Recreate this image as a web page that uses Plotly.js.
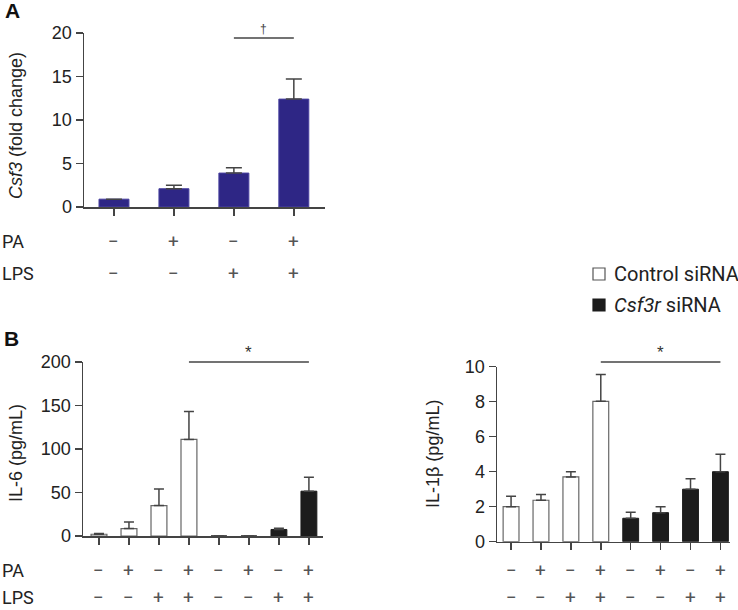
<!DOCTYPE html>
<html>
<head>
<meta charset="utf-8">
<script src="https://cdn.plot.ly/plotly-3.0.1.min.js"></script>
<style>html,body{margin:0;padding:0;background:#fff;}#chart{width:738px;height:610px;}</style>
</head>
<body>
<div id="chart"></div>
<script>
// ---- data ----
const paA   = ['−', '+', '−', '+'];
const lpsA  = ['−', '−', '+', '+'];
const csf3Mean = [0.9, 2.1, 3.9, 12.4];
const csf3Err  = [0, 0.4, 0.6, 2.3];

const paB  = ['−', '+', '−', '+', '−', '+', '−', '+'];
const lpsB = ['−', '−', '+', '+', '−', '−', '+', '+'];

const il6Control    = [2, 8.5, 35, 111];
const il6ControlErr = [1, 7.5, 19, 32];
const il6Csf3r      = [0, 0, 7.5, 51.5];
const il6Csf3rErr   = [0, 0, 1.5, 16];

const il1bControl    = [2.0, 2.37, 3.7, 8.02];
const il1bControlErr = [0.6, 0.33, 0.3, 1.54];
const il1bCsf3r      = [1.34, 1.66, 3.0, 4.0];
const il1bCsf3rErr   = [0.34, 0.34, 0.6, 1.0];

const seriesNames = ['Control siRNA', '<i>Csf3r</i> siRNA'];

// ---- helpers ----
const W = 738, H = 610;
const px = v => v / W;
const py = v => 1 - v / H;
const idx = n => Array.from({length: n}, (_, i) => i);
const zeros = a => a.map(() => 0);

const AX = '#444';
const NAVY = '#2e2685';
const BLACK = '#1c1c1c';
const WHITE_LINE = '#666';

function errY(arr, w) {
  return {type: 'data', symmetric: false, array: arr, arrayminus: zeros(arr),
          color: AX, thickness: 1.5, width: w};
}

const ctrlX = idx(4);
const siX = idx(4).map(i => i + 4);

const traces = [
  {type: 'bar', x: idx(4), y: csf3Mean, xaxis: 'x', yaxis: 'y', width: 0.5,
   marker: {color: NAVY, line: {color: '#4a42a0', width: 1}},
   error_y: errY(csf3Err, 8), showlegend: false, hoverinfo: 'y'},

  {type: 'bar', x: ctrlX, y: il6Control, xaxis: 'x2', yaxis: 'y2', width: 0.53,
   marker: {color: '#ffffff', line: {color: WHITE_LINE, width: 1.2}},
   error_y: errY(il6ControlErr, 5), showlegend: false, name: seriesNames[0]},
  {type: 'bar', x: siX, y: il6Csf3r, xaxis: 'x2', yaxis: 'y2', width: 0.53,
   marker: {color: BLACK, line: {color: BLACK, width: 1}},
   error_y: errY(il6Csf3rErr, 5), showlegend: false, name: seriesNames[1]},

  {type: 'bar', x: ctrlX, y: il1bControl, xaxis: 'x3', yaxis: 'y3', width: 0.53,
   marker: {color: '#ffffff', line: {color: WHITE_LINE, width: 1.2}},
   error_y: errY(il1bControlErr, 5), showlegend: false, name: seriesNames[0]},
  {type: 'bar', x: siX, y: il1bCsf3r, xaxis: 'x3', yaxis: 'y3', width: 0.53,
   marker: {color: BLACK, line: {color: BLACK, width: 1}},
   error_y: errY(il1bCsf3rErr, 5), showlegend: false, name: seriesNames[1]}
];

const tickFont = {family: 'Liberation Sans, Arial, sans-serif', size: 18, color: '#222'};

function xAx(domain, range, n, anchor) {
  return {domain: domain, range: range, anchor: anchor, showline: true, linecolor: AX, linewidth: 1.5,
          ticks: 'outside', ticklen: 7, tickwidth: 1.5, tickcolor: AX,
          tickvals: idx(n), showticklabels: false, showgrid: false, zeroline: false,
          fixedrange: true};
}
function yAx(domain, range, dtick, anchor) {
  return {domain: domain, range: range, anchor: anchor, showline: true, linecolor: AX, linewidth: 1.5,
          ticks: 'outside', ticklen: 7, tickwidth: 1.5, tickcolor: AX,
          tick0: 0, dtick: dtick, tickfont: tickFont, showgrid: false, zeroline: false,
          fixedrange: true};
}

// manual legend swatches (Control = white/outlined, Csf3r = black)
const legendRows = [274, 305];
const legendFill = ['#ffffff', BLACK];
const legendLine = ['#555', BLACK];
const legendShapes = legendRows.map((yc, i) => ({
  type: 'rect', xref: 'paper', yref: 'paper',
  x0: px(593), x1: px(605), y0: py(yc - 6), y1: py(yc + 6),
  fillcolor: legendFill[i], line: {color: legendLine[i], width: 1.2}
}));

const layout = {
  width: W, height: H,
  margin: {l: 0, r: 0, t: 0, b: 0},
  paper_bgcolor: '#fff', plot_bgcolor: 'rgba(0,0,0,0)',
  barmode: 'overlay',
  showlegend: false,
  xaxis:  xAx([px(84), px(325)], [-0.5, 3.52], 4, 'y'),
  yaxis:  yAx([py(207), py(33)], [0, 20], 5, 'x'),
  xaxis2: xAx([px(83), px(323)], [-0.533, 7.47], 8, 'y2'),
  yaxis2: yAx([py(536), py(362)], [0, 200], 50, 'x2'),
  xaxis3: xAx([px(497), px(730)], [-0.47, 7.32], 8, 'y3'),
  yaxis3: yAx([py(541.7), py(366.7)], [0, 10], 2, 'x3'),
  shapes: [
    {type: 'line', xref: 'x', yref: 'paper', x0: 2, x1: 3, y0: py(38), y1: py(38),
     line: {color: AX, width: 1.5}},
    {type: 'line', xref: 'x2', yref: 'paper', x0: 3, x1: 7, y0: py(362), y1: py(362),
     line: {color: AX, width: 1.5}},
    {type: 'line', xref: 'x3', yref: 'paper', x0: 3, x1: 7, y0: py(362), y1: py(362),
     line: {color: AX, width: 1.5}}
  ].concat(legendShapes),
  annotations: []
};

const ann = layout.annotations;
const lblFont = {family: 'Roboto, sans-serif', size: 18, color: '#222'};
const pmFont = {family: 'Roboto, sans-serif', size: 19, color: '#555'};
const titleFont = {family: 'Liberation Sans, Arial, sans-serif', size: 18, color: '#222'};
const legFont = {family: 'Roboto, sans-serif', size: 20, color: '#222'};

function note(o) {
  ann.push(Object.assign({showarrow: false, xanchor: 'center', yanchor: 'middle'}, o));
}

// legend texts
seriesNames.forEach((n, i) => note({text: n, xref: 'paper', yref: 'paper', x: px(612), y: py(legendRows[i]),
  xanchor: 'left', font: legFont}));

// panel letters
note({text: '<b>A</b>', xref: 'paper', yref: 'paper', x: px(12), y: py(11),
      font: {family: 'Liberation Sans, Arial, sans-serif', size: 21, color: '#111'}});
note({text: '<b>B</b>', xref: 'paper', yref: 'paper', x: px(11), y: py(338),
      font: {family: 'Liberation Sans, Arial, sans-serif', size: 21, color: '#111'}});

// y titles
note({text: '<i>Csf3</i> (fold change)', xref: 'paper', yref: 'paper', x: px(16), y: py(126), textangle: -90, font: titleFont});
note({text: 'IL-6 (pg/mL)', xref: 'paper', yref: 'paper', x: px(16), y: py(453), textangle: -90, font: titleFont});
note({text: 'IL-1β (pg/mL)', xref: 'paper', yref: 'paper', x: px(433), y: py(454), textangle: -90, font: titleFont});

// significance marks
note({text: '†', xref: 'x', yref: 'paper', x: 2.5, y: py(29),
      font: {family: 'Liberation Sans, Arial, sans-serif', size: 12, color: '#444'}});
note({text: '*', xref: 'x2', yref: 'paper', x: 5, y: py(352),
      font: {family: 'Liberation Sans, Arial, sans-serif', size: 17, color: '#333'}});
note({text: '*', xref: 'x3', yref: 'paper', x: 5, y: py(352),
      font: {family: 'Liberation Sans, Arial, sans-serif', size: 17, color: '#333'}});

// row labels
function rowLabel(t, y) {
  note({text: t, xref: 'paper', yref: 'paper', x: px(0), y: py(y), xanchor: 'left', font: lblFont});
}
rowLabel('PA', 242); rowLabel('LPS', 273);
rowLabel('PA', 570); rowLabel('LPS', 597);

function pmRow(arr, xref, y) {
  arr.forEach((t, i) => note({text: t, xref: xref, yref: 'paper', x: i, y: py(y), font: pmFont}));
}
pmRow(paA, 'x', 242); pmRow(lpsA, 'x', 273);
pmRow(paB, 'x2', 570); pmRow(lpsB, 'x2', 597);
pmRow(paB, 'x3', 570); pmRow(lpsB, 'x3', 597);

Plotly.newPlot('chart', traces, layout, {displayModeBar: false, staticPlot: true});
</script>
</body>
</html>
